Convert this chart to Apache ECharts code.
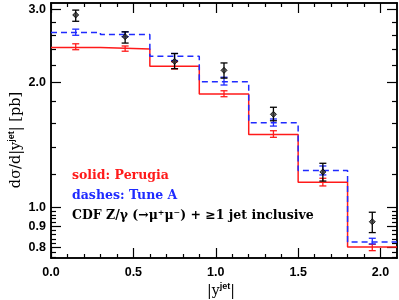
<!DOCTYPE html>
<html>
<head>
<meta charset="utf-8">
<script src="https://cdn.jsdelivr.net/npm/echarts@6/dist/echarts.min.js"></script>
<style>html,body{margin:0;padding:0;background:#fff;}#c{width:399px;height:300px;}</style>
</head>
<body>
<div id="c"></div>
<script>
// ---- data ----
const binEdges = [0, 0.3, 0.6, 0.9, 1.2, 1.5, 1.8, 2.1];
const binCenters = [0.15, 0.45, 0.75, 1.05, 1.35, 1.65, 1.95];
const perugia = [2.43, 2.41, 2.19, 1.877, 1.50, 1.15, 0.803];
const perugiaLow = [2.40, 2.38, 2.157, 1.849, 1.476, 1.127, 0.787];
const perugiaHigh = [2.48, 2.45, 2.245, 1.911, 1.531, 1.176, 0.815];
const tuneA = [2.64, 2.61, 2.316, 2.01, 1.60, 1.227, 0.826];
const tuneALow = [2.60, 2.58, 2.26, 1.973, 1.571, 1.198, 0.817];
const tuneAHigh = [2.69, 2.65, 2.35, 2.06, 1.634, 1.259, 0.843];
const cdf = [2.91, 2.58, 2.25, 2.14, 1.677, 1.218, 0.924];
const cdfLow = [2.81, 2.49, 2.16, 2.05, 1.618, 1.158, 0.870];
const cdfHigh = [2.99, 2.65, 2.35, 2.23, 1.744, 1.278, 0.974];
const yMajorTicks = [0.8, 0.9, 1.0, 2.0, 3.0];
const yMinorTicks = [0.76, 0.78, 0.82, 0.84, 0.86, 0.88, 0.92, 0.94, 0.96, 0.98, 1.2, 1.4, 1.6, 1.8, 2.2, 2.4, 2.6, 2.8];
const xMajorTicks = [0, 0.5, 1.0, 1.5, 2.0];
const xMinorTicks = [0.1, 0.2, 0.3, 0.4, 0.6, 0.7, 0.8, 0.9, 1.1, 1.2, 1.3, 1.4, 1.6, 1.7, 1.8, 1.9];
const yRange = [0.7556, 3.11];
const xRange = [0, 2.1];

const L = Math.log10;
const RED = '#ff1a1a', BLUE = '#1f2bff';

function stepData(vals) {
  const d = vals.map((v, i) => [binEdges[i], L(v)]);
  d.push([binEdges[binEdges.length - 1], L(vals[vals.length - 1])]);
  return d;
}
function errData(low, high) {
  return binCenters.map((x, i) => [x, L(low[i]), L(high[i])]);
}
function errSeries(low, high, color, cap) {
  return {
    type: 'custom', xAxisIndex: 0, yAxisIndex: 0, z: 5,
    data: errData(low, high),
    encode: { x: 0, y: [1, 2] },
    renderItem: function (params, api) {
      const lo = api.coord([api.value(0), api.value(1)]);
      const hi = api.coord([api.value(0), api.value(2)]);
      const st = { stroke: color, lineWidth: 1.3 };
      return { type: 'group', children: [
        { type: 'line', shape: { x1: lo[0], y1: lo[1], x2: hi[0], y2: hi[1] }, style: st },
        { type: 'line', shape: { x1: lo[0] - cap, y1: lo[1], x2: lo[0] + cap, y2: lo[1] }, style: st },
        { type: 'line', shape: { x1: hi[0] - cap, y1: hi[1], x2: hi[0] + cap, y2: hi[1] }, style: st }
      ]};
    }
  };
}

const axLine = { show: true, onZero: false, lineStyle: { color: '#000', width: 1.5 } };
const lblFont = { fontFamily: 'Liberation Sans', fontWeight: 'bold', fontSize: 12.5, color: '#000' };

function xAx(pos, ticks, len, labels) {
  return {
    type: 'value', position: pos, min: xRange[0], max: xRange[1],
    axisLine: axLine, splitLine: { show: false },
    axisTick: { show: true, inside: true, length: len, customValues: ticks, lineStyle: { color: '#000', width: 1.2 } },
    axisLabel: labels ? Object.assign({ show: true, margin: 8, customValues: xMajorTicks, formatter: v => v.toFixed(1) }, lblFont) : { show: false }
  };
}
function yAx(pos, ticks, len, labels) {
  return {
    type: 'value', position: pos, min: L(yRange[0]), max: L(yRange[1]),
    axisLine: axLine, splitLine: { show: false },
    axisTick: { show: true, inside: true, length: len, customValues: ticks.map(L), lineStyle: { color: '#000', width: 1.2 } },
    axisLabel: labels ? Object.assign({ show: true, margin: 5, customValues: yMajorTicks.map(L), formatter: v => Math.pow(10, v).toFixed(1) }, lblFont) : { show: false }
  };
}

const serif = 'DejaVu Serif';
const legendFont = 'bold 12.5px "DejaVu Serif"';
const chart = echarts.init(document.getElementById('c'), null, { renderer: 'canvas' });
chart.setOption({
  animation: false,
  backgroundColor: '#fff',
  grid: { left: 51, right: 2, top: 3, bottom: 42 },
  xAxis: [
    xAx('bottom', xMajorTicks, 10, true),
    xAx('bottom', xMinorTicks, 4, false),
    xAx('top', xMajorTicks, 10, false),
    xAx('top', xMinorTicks, 4, false)
  ],
  yAxis: [
    yAx('left', yMajorTicks, 10, true),
    yAx('left', yMinorTicks, 5, false),
    yAx('right', yMajorTicks, 10, false),
    yAx('right', yMinorTicks, 5, false)
  ],
  series: [
    { type: 'line', step: 'end', data: stepData(perugia), symbol: 'none', z: 3,
      lineStyle: { color: RED, width: 1.5 } },
    { type: 'line', step: 'end', data: stepData(tuneA), symbol: 'none', z: 3,
      lineStyle: { color: BLUE, width: 1.5, type: [6, 4] } },
    errSeries(perugiaLow, perugiaHigh, RED, 3.5),
    errSeries(tuneALow, tuneAHigh, BLUE, 3.5),
    errSeries(cdfLow, cdfHigh, '#000', 3.5),
    { type: 'scatter', data: binCenters.map((x, i) => [x, L(cdf[i])]), z: 6,
      symbol: 'diamond', symbolSize: 6,
      itemStyle: { color: '#333', borderColor: '#000', borderWidth: 1 } }
  ],
  graphic: [
    { type: 'text', x: 16, y: 140, rotation: Math.PI / 2,
      style: { text: '{n|dσ/d|y}{s|jet}{n|| [pb]}', align: 'center', verticalAlign: 'middle',
        rich: { n: { fontFamily: serif, fontSize: 14.5, fill: '#000' },
                s: { fontFamily: 'Liberation Sans', fontSize: 9, fontWeight: 'bold', fill: '#000', padding: [0, 0, 9, 0] } } } },
    { type: 'text', x: 221, y: 291,
      style: { text: '{n||y}{s|jet}{n||}', align: 'center', verticalAlign: 'middle',
        rich: { n: { fontFamily: serif, fontSize: 14, fill: '#000' },
                s: { fontFamily: 'Liberation Sans', fontSize: 9, fontWeight: 'bold', fill: '#000', padding: [0, 0, 9, 0] } } } },
    { type: 'text', x: 72, y: 176,
      style: { text: 'solid: Perugia', fill: RED, font: legendFont, verticalAlign: 'middle' } },
    { type: 'text', x: 72, y: 196,
      style: { text: 'dashes: Tune A', fill: BLUE, font: legendFont, verticalAlign: 'middle' } },
    { type: 'text', x: 72, y: 216,
      style: { text: 'CDF Z/γ (→μ⁺μ⁻) + ≥1 jet inclusive', fill: '#000', font: legendFont, verticalAlign: 'middle' } }
  ]
});
</script>
</body>
</html>
